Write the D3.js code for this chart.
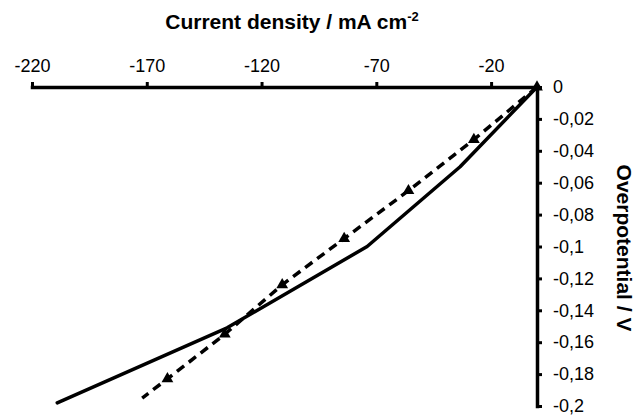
<!DOCTYPE html>
<html>
<head>
<meta charset="utf-8">
<script src="https://cdn.jsdelivr.net/npm/d3@7"></script>
<style>
	body { margin: 0; background: #fff; }
	text { font-family: "Liberation Sans", Arial, sans-serif; fill: #000; }
</style>
</head>
<body>
<div class="canvas"></div>
<script>
// tick labels
const xTicks = [-220, -170, -120, -70, -20];
const yTicks = [0, -0.02, -0.04, -0.06, -0.08, -0.1, -0.12, -0.14, -0.16, -0.18, -0.2];

// solid curve
const solidCurrent = [0, -33.5, -74, -135, -209];
const solidPotential = [0, -0.05, -0.1, -0.151, -0.198];

// dashed curve with triangle markers
const dashedCurrent = [0, -27.5, -56, -84, -111, -136, -161, -172];
const dashedPotential = [0, -0.033, -0.065, -0.095, -0.124, -0.155, -0.183, -0.195];

const svg = d3.select('.canvas')
	.append('svg')
	.attr('width', 635)
	.attr('height', 416);

const x = d3.scaleLinear()
	.domain([-220, 0])
	.range([32, 537]);

const y = d3.scaleLinear()
	.domain([0, -0.2])
	.range([87, 406]);

const locale = d3.formatLocale({ decimal: ',', thousands: '.', grouping: [3], currency: ['', ''], minus: '-' });
const fmt = locale.format('~g');

// axes
const xAxis = d3.axisTop(x)
	.tickValues(xTicks)
	.tickSize(5)
	.tickSizeOuter(0)
	.tickPadding(10)
	.tickFormat(fmt);

const yAxis = d3.axisRight(y)
	.tickValues(yTicks)
	.tickSize(5)
	.tickSizeOuter(0)
	.tickPadding(11)
	.tickFormat(fmt);

const xAxisGroup = svg.append('g')
	.attr('transform', `translate(0, ${y(0)})`)
	.call(xAxis);

const yAxisGroup = svg.append('g')
	.attr('transform', `translate(${x(0)}, 0)`)
	.call(yAxis);

[xAxisGroup, yAxisGroup].forEach(g => {
	g.select('.domain')
		.attr('stroke', '#000')
		.attr('stroke-width', 3.5)
		.attr('stroke-linecap', 'square');
	g.selectAll('.tick line')
		.attr('stroke', '#000')
		.attr('stroke-width', 3);
	g.selectAll('.tick text')
		.style('font-size', '18px')
		.attr('fill', '#000');
});

// lines
const solidData = solidCurrent.map((c, i) => ({ c, v: solidPotential[i] }));
const dashedData = dashedCurrent.map((c, i) => ({ c, v: dashedPotential[i] }));

const line = d3.line()
	.x(d => x(d.c))
	.y(d => y(d.v));

svg.append('path')
	.datum(solidData)
	.attr('d', line)
	.attr('fill', 'none')
	.attr('stroke', '#000')
	.attr('stroke-width', 3.5)
	.attr('stroke-linejoin', 'round')
	.attr('stroke-linecap', 'round');

svg.append('path')
	.datum(dashedData)
	.attr('d', line)
	.attr('fill', 'none')
	.attr('stroke', '#000')
	.attr('stroke-width', 3.5)
	.attr('stroke-dasharray', '9,6');

svg.selectAll('.marker')
	.data(dashedData.slice(0, -1))
	.enter()
	.append('path')
	.attr('class', 'marker')
	.attr('d', d3.symbol().type(d3.symbolTriangle).size(60))
	.attr('transform', d => `translate(${x(d.c)}, ${y(d.v)})`)
	.attr('fill', '#000');

// titles
const title = svg.append('text')
	.attr('x', 292)
	.attr('y', 29)
	.attr('text-anchor', 'middle')
	.style('font-size', '21px')
	.style('font-weight', 'bold');
title.append('tspan').text('Current density / mA cm');
title.append('tspan')
	.attr('dy', -8)
	.style('font-size', '13px')
	.text('-2');

svg.append('text')
	.attr('transform', 'translate(617, 248) rotate(90)')
	.attr('text-anchor', 'middle')
	.style('font-size', '21px')
	.style('font-weight', 'bold')
	.text('Overpotential / V');
</script>
</body>
</html>
